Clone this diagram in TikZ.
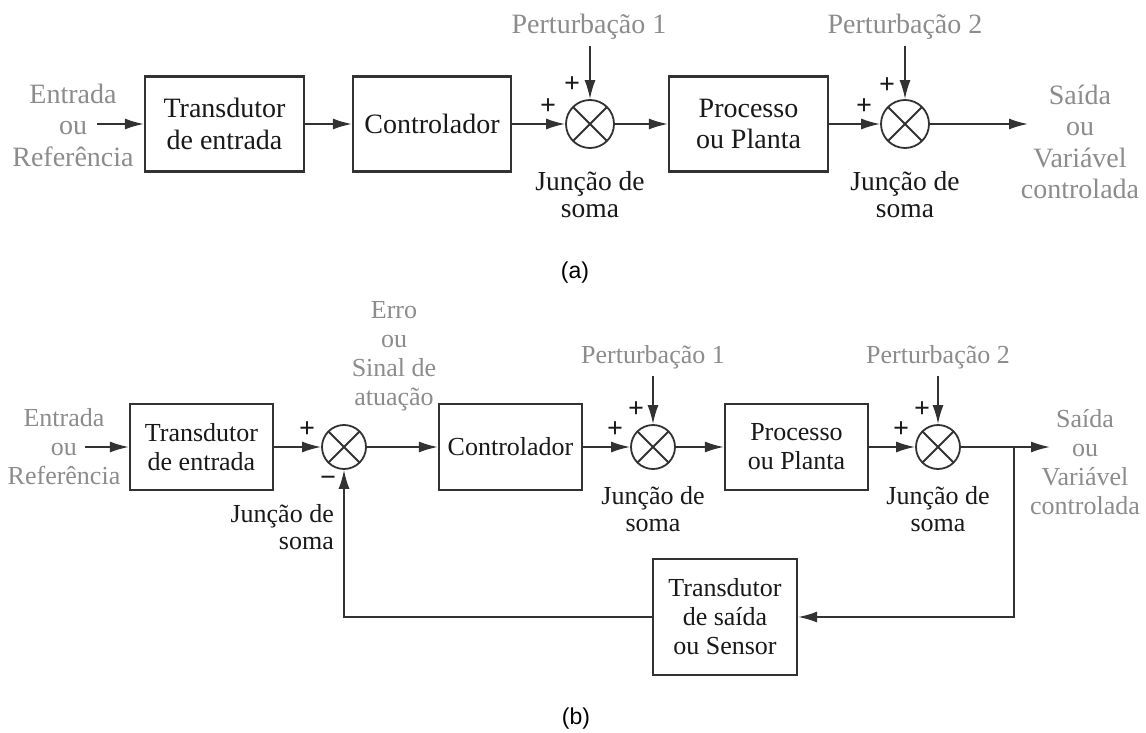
\documentclass[tikz,border=0pt]{standalone}
\usepackage{fontspec}
\setmainfont{Liberation Serif}
\newfontfamily\labsans{Liberation Sans}
\usetikzlibrary{arrows.meta}
\definecolor{txtgray}{RGB}{140,140,140}
\definecolor{lncol}{RGB}{50,50,50}
\definecolor{txtblk}{RGB}{25,25,25}
\newcommand\szA{\fontsize{28}{31.5}\selectfont}
\newcommand\szB{\fontsize{26}{29}\selectfont}
\newcommand\szJA{\fontsize{27.5}{27}\selectfont}
\newcommand\szJB{\fontsize{26}{27.5}\selectfont}
\newcommand\szP{\fontsize{28}{28}\selectfont\bfseries}
\begin{document}
\begin{tikzpicture}[x=1pt,y=-1pt,
  blk/.style={draw=lncol,line width=2.2pt,align=center,inner sep=0pt,text=txtblk},
  sumc/.style={circle,draw=lncol,line width=1.8pt,inner sep=0pt,
    path picture={\draw[lncol,line width=1.8pt]
      (path picture bounding box.north west) -- (path picture bounding box.south east)
      (path picture bounding box.north east) -- (path picture bounding box.south west);}},
  gtxt/.style={text=txtgray,align=center,inner sep=0pt},
  btxt/.style={text=txtblk,align=center,inner sep=0pt},
  sgn/.style={text=txtblk,inner sep=0pt,font=\szP},
  arr/.style={draw=lncol,line width=1.8pt,-{Latex[length=19pt,width=11pt]}},
  plain/.style={draw=lncol,line width=1.8pt},
  lab/.style={text=black,inner sep=0pt,font=\labsans\fontsize{23}{26}\selectfont}
]
\useasboundingbox[fill=white] (0,0) rectangle (1146,733);

% ---------------- (a) ----------------
\node[blk,font=\szA,minimum width=159,minimum height=95] (B1a) at (224.5,124) {Transdutor\\de entrada};
\node[blk,font=\szA,minimum width=158,minimum height=95] (B2a) at (432,124) {Controlador};
\node[sumc,minimum size=48] (S1a) at (590,124) {};
\node[blk,font=\szA,minimum width=159,minimum height=95] (B3a) at (748.5,124) {Processo\\ou Planta};
\node[sumc,minimum size=48] (S2a) at (905,124) {};

\node[gtxt,font=\szA] (INa) at (73,125) {Entrada\\ou\\Referência};
\node[gtxt,font=\szA] (OUTa) at (1080,142) {Saída\\ou\\Variável\\controlada};
\node[gtxt,font=\szA] (P1a) at (589,27) {Perturbação 1};
\node[gtxt,font=\szA] (P2a) at (905,27) {Perturbação 2};
\node[btxt,font=\szJA] (J1a) at (590,195) {Junção de\\soma};
\node[btxt,font=\szJA] (J2a) at (905,195) {Junção de\\soma};
\node[sgn] (s1a) at (548,107) {+};
\node[sgn] (s2a) at (572,85) {+};
\node[sgn] (s3a) at (864,107) {+};
\node[sgn] (s4a) at (887,86) {+};
\node[lab] (la) at (575,273) {(a)};

\coordinate (ia) at (97,124);
\coordinate (oa) at (1028,124);
\coordinate (p1a) at (590,46);
\coordinate (p2a) at (905,46);

\draw[arr] (ia) -- (B1a);
\draw[arr] (B1a) -- (B2a);
\draw[arr] (B2a) -- (S1a);
\draw[arr] (S1a) -- (B3a);
\draw[arr] (B3a) -- (S2a);
\draw[arr] (S2a) -- (oa);
\draw[arr] (p1a) -- (S1a);
\draw[arr] (p2a) -- (S2a);

% ---------------- (b) ----------------
\node[blk,font=\szB,minimum width=143,minimum height=86] (B1b) at (201.5,447) {Transdutor\\de entrada};
\node[sumc,minimum size=44] (S1b) at (344,447) {};
\node[blk,font=\szB,minimum width=143,minimum height=86] (B2b) at (510.5,447) {Controlador};
\node[sumc,minimum size=44] (S2b) at (653,447) {};
\node[blk,font=\szB,minimum width=143,minimum height=86] (B3b) at (796.5,447) {Processo\\ou Planta};
\node[sumc,minimum size=44] (S3b) at (938,447) {};
\node[blk,font=\szB,minimum width=144,minimum height=116] (SEN) at (725,617) {Transdutor\\de saída\\ou Sensor};

\node[gtxt,font=\szB] (INb) at (64,447) {Entrada\\ou\\Referência};
\node[gtxt,font=\szB] (OUTb) at (1085,462) {Saída\\ou\\Variável\\controlada};
\node[gtxt,font=\szB] (ERR) at (394,356) {Erro\\ou\\Sinal de\\atuação};
\node[gtxt,font=\szB] (P1b) at (653,357) {Perturbação 1};
\node[gtxt,font=\szB] (P2b) at (938,357) {Perturbação 2};
\node[btxt,font=\szJB,align=right,anchor=east] (J1b) at (334,527) {Junção de\\soma};
\node[btxt,font=\szJB] (J2b) at (653,509) {Junção de\\soma};
\node[btxt,font=\szJB] (J3b) at (938,509) {Junção de\\soma};
\node[sgn] (s1b) at (307,430) {+};
\node[sgn] (s2b) at (328,481) {−};
\node[sgn] (s3b) at (615,430) {+};
\node[sgn] (s4b) at (636,410) {+};
\node[sgn] (s5b) at (901,430) {+};
\node[sgn] (s6b) at (922,410) {+};
\node[lab] (lb) at (576,719) {(b)};

\coordinate (ib) at (85,447);
\coordinate (tap) at (1014,447);
\coordinate (ob) at (1050,447);
\coordinate (fb1) at (1014,617);
\coordinate (fb2) at (344,617);
\coordinate (p1b) at (653,376);
\coordinate (p2b) at (938,376);

\draw[arr] (ib) -- (B1b);
\draw[arr] (B1b) -- (S1b);
\draw[arr] (S1b) -- (B2b);
\draw[arr] (B2b) -- (S2b);
\draw[arr] (S2b) -- (B3b);
\draw[arr] (B3b) -- (S3b);
\draw[plain] (S3b) -- (tap);
\draw[arr] (tap) -- (ob);
\draw[arr] (tap) -- (fb1) -- (SEN);
\draw[arr] (SEN) -- (fb2) -- (S1b);
\draw[arr] (p1b) -- (S2b);
\draw[arr] (p2b) -- (S3b);
\end{tikzpicture}
\end{document}
